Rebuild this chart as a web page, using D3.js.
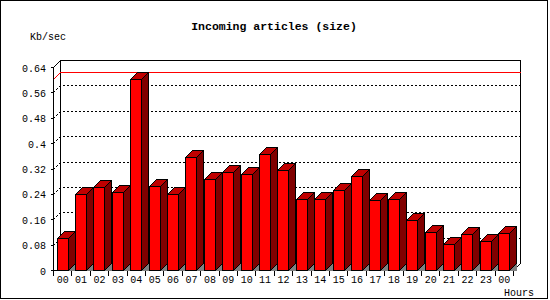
<!DOCTYPE html>
<html>
<head>
<meta charset="utf-8">
<script src="https://cdn.jsdelivr.net/npm/d3@7"></script>
<style>
  body { margin: 0; background: #fff; }
  text { font-family: "Liberation Mono", "DejaVu Sans Mono", monospace; }
  path, line, rect { shape-rendering: crispEdges; }
</style>
</head>
<body>
<script>
// hours on the x axis (last one is midnight again)
var hours = ["00","01","02","03","04","05","06","07","08","09","10","11","12",
             "13","14","15","16","17","18","19","20","21","22","23","00"];
// Kb/sec per hour
var kbps = [0.100, 0.239, 0.261, 0.245, 0.601, 0.264, 0.239, 0.355, 0.286, 0.310,
            0.302, 0.365, 0.315, 0.223, 0.223, 0.251, 0.295, 0.220, 0.223, 0.157,
            0.119, 0.081, 0.112, 0.090, 0.116];
var yTicks = [0, 0.08, 0.16, 0.24, 0.32, 0.4, 0.48, 0.56, 0.64];

var W = 550, H = 300;
var dep = 7;           // 3d depth
var barW = 11;

var svg = d3.select("body").append("svg")
    .attr("width", W)
    .attr("height", H);

// outer frame
svg.append("rect")
    .attr("x", 0.5).attr("y", 0.5)
    .attr("width", 547).attr("height", 298)
    .attr("fill", "#fff")
    .attr("stroke", "#000");

var x = d3.scaleBand()
    .domain(d3.range(hours.length))
    .range([53.5, 513.5]);

var y = d3.scaleLinear()
    .domain([0, 0.64])
    .range([270.5, 67.5]);

var x0 = x.range()[0], x1 = x.range()[1];
var yb = y(0), yt = y(0.64);

// back plane
svg.append("path")
    .attr("d", "M" + (x0 + dep) + "," + (yb - dep) + "V" + (yt - dep) + "H" + (x1 + dep) + "V" + (yb - dep))
    .attr("fill", "none")
    .attr("stroke", "#000");

// grid lines (dotted, on the back plane)
var g = svg.append("g");
yTicks.slice(1, -1).forEach(function (v) {
    var yy = Math.round(y(v) - 0.5) + 0.5;
    g.append("path")
        .attr("d", "M" + x0 + "," + yy + "L" + (x0 + dep) + "," + (yy - dep) + "H" + (x1 + dep))
        .attr("fill", "none")
        .attr("stroke", "#000")
        .attr("stroke-dasharray", "2,2");
});

// max line
var mx = d3.max(kbps);
var ym = Math.round(y(mx) - 0.5) + 0.5;
svg.append("path")
    .attr("d", "M" + x0 + "," + ym + "L" + (x0 + dep) + "," + (ym - dep) + "H" + (x1 + dep))
    .attr("fill", "none")
    .attr("stroke", "#ff0000");

// front y axis
svg.append("path")
    .attr("d", "M" + (x0 + dep) + "," + (yt - dep) + "L" + x0 + "," + yt + "V" + yb + "H" + x1 + "L" + (x1 + dep) + "," + (yb - dep))
    .attr("fill", "none")
    .attr("stroke", "#000");

svg.selectAll(".ytick")
    .data(yTicks)
    .enter()
    .append("line")
    .attr("x1", x0 - 3).attr("x2", x0)
    .attr("y1", function (d) { return Math.round(y(d) - 0.5) + 0.5; })
    .attr("y2", function (d) { return Math.round(y(d) - 0.5) + 0.5; })
    .attr("stroke", "#000");

svg.selectAll(".ylab")
    .data(yTicks)
    .enter()
    .append("text")
    .attr("x", 46)
    .attr("y", function (d) { return y(d) + 4; })
    .attr("text-anchor", "end")
    .attr("font-size", 10)
    .text(function (d) { return String(+d.toFixed(2)); });

// bars
var bars = svg.selectAll(".bar")
    .data(kbps)
    .enter()
    .append("g")
    .attr("class", "bar");

function bx(i) { return Math.round(x(i) + 3) + 0.5; }
function by(d) { return Math.round(y(d) - 0.5) + 0.5; }

bars.append("path")   // floor shadow
    .attr("d", function (d, i) {
        var a = bx(i) + barW;
        return "M" + a + "," + yb + "L" + (a + dep) + "," + (yb - dep) + "V" + yb + "Z";
    })
    .attr("fill", "#808080");

bars.append("path")   // side
    .attr("d", function (d, i) {
        var a = bx(i) + barW, t = by(d);
        return "M" + a + "," + t + "L" + (a + dep) + "," + (t - dep) + "V" + (yb - dep) + "L" + a + "," + yb + "Z";
    })
    .attr("fill", "#800000")
    .attr("stroke", "#000");

bars.append("path")   // top
    .attr("d", function (d, i) {
        var a = bx(i), t = by(d);
        return "M" + a + "," + t + "L" + (a + dep) + "," + (t - dep) + "H" + (a + barW + dep) + "L" + (a + barW) + "," + t + "Z";
    })
    .attr("fill", "#c00000")
    .attr("stroke", "#000");

bars.append("rect")   // front
    .attr("x", function (d, i) { return bx(i); })
    .attr("y", function (d) { return by(d); })
    .attr("width", barW)
    .attr("height", function (d) { return yb - by(d); })
    .attr("fill", "#ff0000")
    .attr("stroke", "#000");

// x ticks and labels
svg.selectAll(".xtick")
    .data(d3.range(hours.length + 1))
    .enter()
    .append("line")
    .attr("x1", function (d) { return Math.round(x0 + d * x.bandwidth() - 0.5) + 0.5; })
    .attr("x2", function (d) { return Math.round(x0 + d * x.bandwidth() - 0.5) + 0.5; })
    .attr("y1", yb).attr("y2", yb + 5)
    .attr("stroke", "#000");

svg.selectAll(".xlab")
    .data(hours)
    .enter()
    .append("text")
    .attr("x", function (d, i) { return x(i) + x.bandwidth() / 2; })
    .attr("y", 283)
    .attr("text-anchor", "middle")
    .attr("font-size", 10)
    .text(function (d) { return d; });

// titles
svg.append("text")
    .attr("x", 274).attr("y", 30)
    .attr("text-anchor", "middle")
    .attr("font-size", 11.5)
    .attr("font-weight", "bold")
    .text("Incoming articles (size)");

svg.append("text")
    .attr("x", 30).attr("y", 40)
    .attr("font-size", 10)
    .text("Kb/sec");

svg.append("text")
    .attr("x", 504).attr("y", 296)
    .attr("font-size", 10)
    .text("Hours");
</script>
</body>
</html>
